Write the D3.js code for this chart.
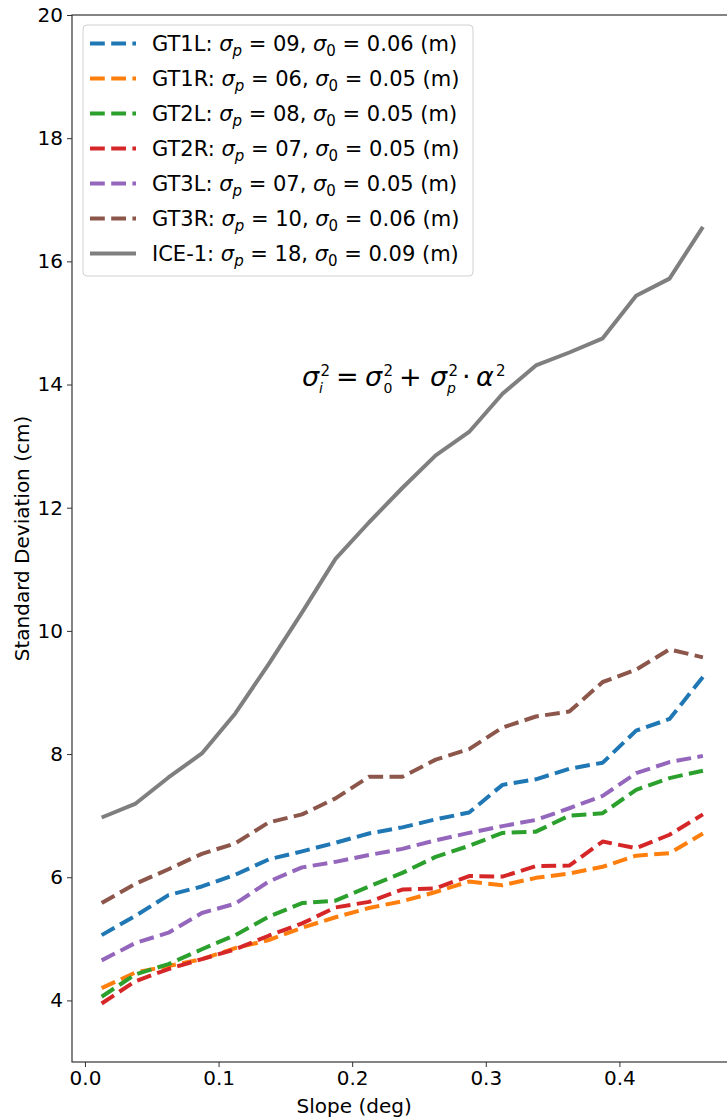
<html>
<script src='https://d3js.org/d3.v7.min.js'></script>
<style>
 body {margin:0; background:#fff;}
 text {font-family: 'DejaVu Sans', sans-serif; fill:#000;}
</style>
<body onload='init()'>
<svg width=727 height=1120></svg>
<script>
// slope bins (deg)
const slope = [0.0125,0.0375,0.0625,0.0875,0.1125,0.1375,0.1625,0.1875,0.2125,0.2375,
               0.2625,0.2875,0.3125,0.3375,0.3625,0.3875,0.4125,0.4375,0.4625];

const gt1l = [5.06,5.37,5.71,5.85,6.04,6.29,6.42,6.56,6.71,6.81,6.94,7.05,7.50,7.59,7.76,7.86,8.38,8.57,9.25];
const gt1r = [4.20,4.45,4.56,4.67,4.85,4.98,5.18,5.35,5.50,5.61,5.76,5.93,5.87,5.99,6.06,6.17,6.35,6.39,6.71];
const gt2l = [4.06,4.42,4.59,4.83,5.06,5.36,5.58,5.62,5.85,6.07,6.33,6.51,6.72,6.74,7.00,7.04,7.42,7.61,7.73];
const gt2r = [3.95,4.31,4.51,4.67,4.83,5.05,5.25,5.51,5.60,5.80,5.82,6.02,6.01,6.18,6.19,6.58,6.47,6.69,7.02];
const gt3l = [4.65,4.93,5.10,5.42,5.57,5.93,6.16,6.25,6.36,6.46,6.60,6.72,6.83,6.93,7.12,7.32,7.69,7.87,7.97];
const gt3r = [5.58,5.89,6.13,6.38,6.55,6.89,7.02,7.28,7.63,7.63,7.91,8.08,8.43,8.61,8.69,9.17,9.37,9.70,9.57];
const ice1 = [6.97,7.19,7.62,8.01,8.66,9.46,10.30,11.17,11.76,12.32,12.85,13.23,13.85,14.31,14.52,14.75,15.44,15.72,16.56];

const beams   = ["GT1L","GT1R","GT2L","GT2R","GT3L","GT3R","ICE-1"];
const sigmaP  = ["09","06","08","07","07","10","18"];
const sigma0  = ["0.06","0.05","0.05","0.05","0.05","0.06","0.09"];
const colors  = ["#1f77b4","#ff7f0e","#2ca02c","#d62728","#9467bd","#8c564b","#7f7f7f"];
const series  = [gt1l,gt1r,gt2l,gt2r,gt3l,gt3r,ice1];

const xTicks = [0.0,0.1,0.2,0.3,0.4];
const yTicks = [4,6,8,10,12,14,16,18,20];

function init() {
  var left = 72, top = 15, bottom = 1062, right = 743;

  var x = d3.scaleLinear().domain([-0.0097,0.4925]).range([left,right]);
  var y = d3.scaleLinear().domain([3,20]).range([bottom,top]);

  var svg = d3.select("svg");

  var xAxis = d3.axisBottom(x).tickValues(xTicks).tickFormat(d3.format(".1f")).tickSize(5).tickPadding(4);
  var yAxis = d3.axisLeft(y).tickValues(yTicks).tickFormat(d3.format("d")).tickSize(5).tickPadding(4);

  var gx = svg.append("g").attr("transform","translate(0,"+bottom+")").call(xAxis);
  var gy = svg.append("g").attr("transform","translate("+left+",0)").call(yAxis);
  [gx,gy].forEach(function(g){
    g.select(".domain").remove();
    g.selectAll(".tick line").attr("stroke","#333").attr("stroke-width",1);
    g.selectAll(".tick text").attr("font-size",20).attr("fill","#000")
      .attr("font-family","'DejaVu Sans', sans-serif");
  });

  // spines
  svg.append("rect").attr("x",left).attr("y",top).attr("width",right-left).attr("height",bottom-top)
     .attr("fill","none").attr("stroke","#333").attr("stroke-width",1.2);

  var line = d3.line().x(function(d,i){return x(slope[i]);}).y(function(d){return y(d);});

  var plot = svg.append("g");
  series.forEach(function(s,k){
    plot.append("path").attr("d",line(s)).attr("fill","none")
      .attr("stroke",colors[k]).attr("stroke-width",4)
      .attr("stroke-dasharray", k<6 ? "14.8,6.4" : null)
      .attr("stroke-linejoin","round");
  });

  // axis labels
  svg.append("text").attr("x",x(0.2)+2).attr("y",1113).attr("text-anchor","middle")
     .attr("font-size",20).text("Slope (deg)");
  svg.append("text").attr("transform","translate(29,"+((top+bottom)/2)+") rotate(-90)")
     .attr("text-anchor","middle").attr("font-size",20).text("Standard Deviation (cm)");

  // legend
  var lg = svg.append("g");
  lg.append("rect").attr("x",83).attr("y",25).attr("width",390).attr("height",251).attr("rx",4)
    .attr("fill","#fff").attr("fill-opacity",0.8).attr("stroke","#d0d0d0").attr("stroke-width",1);
  beams.forEach(function(b,k){
    var ly = 43.5 + k*35;
    lg.append("line").attr("x1",90).attr("x2",136).attr("y1",ly).attr("y2",ly)
      .attr("stroke",colors[k]).attr("stroke-width",4)
      .attr("stroke-dasharray", k<6 ? "14.8,6.4" : null);
    var t = lg.append("text").attr("x",152).attr("y",ly+7.5).attr("font-size",21);
    t.append("tspan").text(b+": ");
    t.append("tspan").attr("font-style","italic").text("σ");
    t.append("tspan").attr("font-style","italic").attr("font-size",15).attr("dy",5).text("p");
    t.append("tspan").attr("dy",-5).text(" = "+sigmaP[k]+", ");
    t.append("tspan").attr("font-style","italic").text("σ");
    t.append("tspan").attr("font-size",15).attr("dy",5).text("0");
    t.append("tspan").attr("dy",-5).text(" = "+sigma0[k]+" (m)");
  });

  // formula: sigma_i^2 = sigma_0^2 + sigma_p^2 * alpha^2
  var base = 386;
  function script(xpos, sup, sub, subItalic) {
    svg.append("text").attr("x",xpos).attr("y",base-10).attr("font-size",15).text(sup);
    if (sub) svg.append("text").attr("x",xpos - (subItalic ? 1.5 : 0)).attr("y",base+7).attr("font-size",14)
      .attr("font-style", subItalic ? "italic" : null).text(sub);
  }
  function main(xpos, str, italic) {
    return svg.append("text").attr("x",xpos).attr("y",base).attr("font-size",27)
      .attr("font-style", italic ? "italic" : null).text(str);
  }
  main(302, "σ", true);   script(320.5, "2", "i", true);
  main(336, "=", false);
  main(365, "σ", true);   script(383.5, "2", "0", false);
  main(399, "+", false);
  main(430, "σ", true);   script(448.5, "2", "p", true);
  main(462, "·", false);
  main(476, "α", true);   script(496, "2", null, false);
}
</script>
</body>
</html>
